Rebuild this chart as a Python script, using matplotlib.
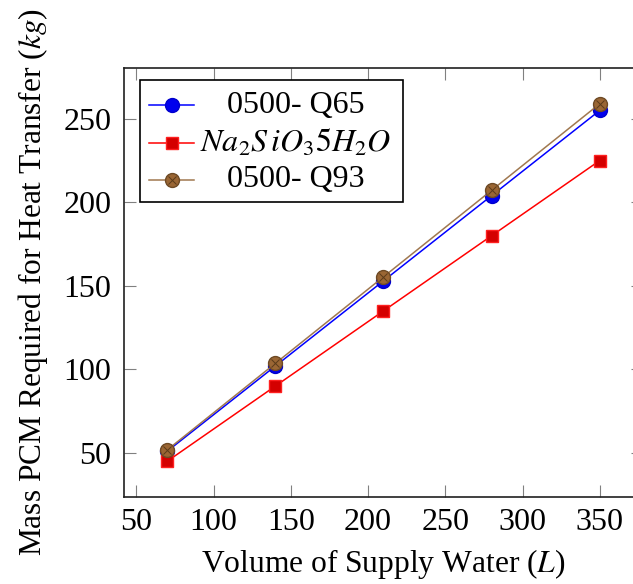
import matplotlib.pyplot as plt
from matplotlib.patches import Rectangle
from matplotlib.lines import Line2D

plt.rcParams['font.family'] = ['Liberation Serif', 'DejaVu Serif']
plt.rcParams['mathtext.fontset'] = 'stix'

# volume of supply water (L) vs PCM mass (kg)
volume = [70, 140, 210, 280, 350]
mass_q65 = [51, 102, 153, 204, 255]
mass_na2sio3 = [45, 90, 135, 180, 225]
mass_q93 = [51.8, 103.6, 155.4, 207.2, 259]

labels = ['0500- Q65', r'$Na_2S\,iO_35H_2O$', '0500- Q93']
xticks = [50, 100, 150, 200, 250, 300, 350]
yticks = [50, 100, 150, 200, 250]

FS = 23

fig = plt.figure(figsize=(6.33, 5.84), dpi=100)
ax = fig.add_axes([124 / 633, 1 - 497 / 584, 519 / 633, 429 / 584])

styles = [
    dict(color='#0000ff', marker='o', ms=10, mfc='#0000ee', mec='#0000cc'),
    dict(color='#ff0000', marker='s', ms=9, mfc='#d40000', mec='#ff2020'),
    dict(color='#a07850', marker='o', ms=10, mfc='#9a6634', mec='#6e4a25'),
]

ax.plot(volume, mass_q65, lw=1.1, **styles[0])
ax.plot(volume, mass_na2sio3, lw=1.1, **styles[1])
ax.plot(volume, mass_q93, lw=1.1, **styles[2])
# cross inside the brown circles
ax.plot(volume, mass_q93, ls='none', marker='x', ms=6, mew=0.7, color='#5a3a1a')

ax.set_xlim(42, 378)
ax.set_ylim(23.6, 280.4)
ax.set_xticks(xticks)
ax.set_yticks(yticks)
ax.tick_params(direction='in', length=8.5, width=0.8, color='#808080',
               top=True, right=True, labelsize=FS, pad=8)
ax.tick_params(axis='y', pad=9)
for sp in ax.spines.values():
    sp.set_linewidth(1.2)
    sp.set_color('#202020')

ax.set_xlabel('Volume of Supply Water ($L$)', fontsize=22.7, labelpad=7)
ax.set_ylabel('Mass PCM Required for Heat Transfer ($kg$)', fontsize=22.6, labelpad=10)

# legend box with centred entries
def px(x, y):
    return (x - 124) / 519, (497 - y) / 429

x0, y0 = px(140, 202)
x1, y1 = px(403, 80)
ax.add_patch(Rectangle((x0, y0), x1 - x0, y1 - y0, transform=ax.transAxes,
                       fc='white', ec='black', lw=1.2, zorder=5))
rows_y = [105, 143, 180]
for st, lab, ry in zip(styles, labels, rows_y):
    lx0, ly = px(149, ry)
    lx1, _ = px(194, ry)
    mx, _ = px(172, ry)
    ax.add_line(Line2D([lx0, lx1], [ly, ly], transform=ax.transAxes,
                       color=st['color'], lw=1.1, zorder=6))
    ax.add_line(Line2D([mx], [ly], transform=ax.transAxes, ls='none',
                       marker=st['marker'], ms=st['ms'], mfc=st['mfc'],
                       mec=st['mec'], zorder=7))
    if lab == '0500- Q93':
        ax.add_line(Line2D([mx], [ly], transform=ax.transAxes, ls='none',
                           marker='x', ms=6, mew=0.7, color='#5a3a1a', zorder=8))
    tx, _ = px(296, ry)
    ax.text(tx, ly, lab, transform=ax.transAxes, ha='center', va='center',
            fontsize=FS, zorder=8)

fig.savefig('out.png', dpi=100)
